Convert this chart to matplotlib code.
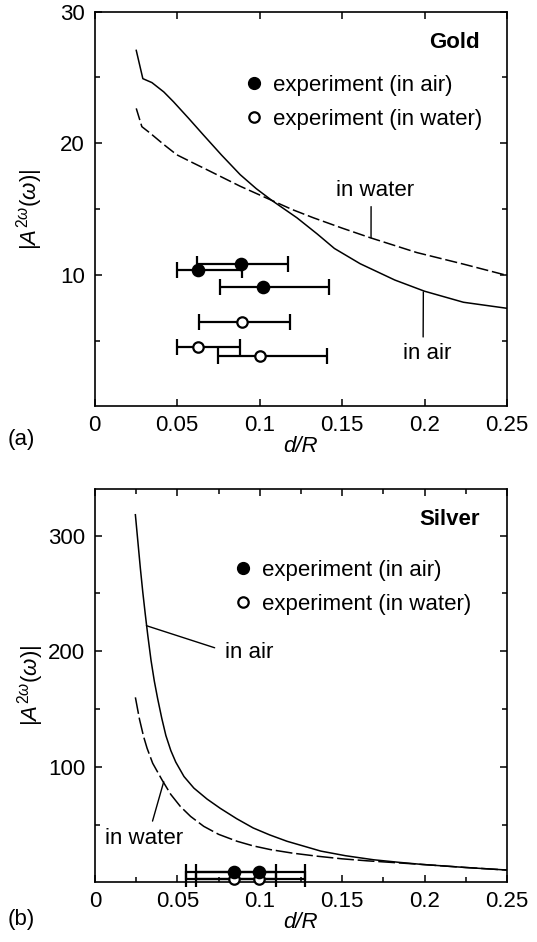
import numpy as np
import matplotlib
matplotlib.use("Agg")
import matplotlib.pyplot as plt
from matplotlib.lines import Line2D

plt.rcParams['font.family'] = ['Liberation Sans', 'DejaVu Sans']
plt.rcParams['mathtext.fontset'] = 'custom'
plt.rcParams['mathtext.rm'] = 'Liberation Sans'
plt.rcParams['mathtext.it'] = 'Liberation Sans:italic'
plt.rcParams['font.size'] = 16

# gold, theory curves
gold_air_x = [0.0253, 0.0293, 0.0348, 0.042, 0.0479, 0.057, 0.066, 0.077, 0.0883, 0.098, 0.1075,
              0.1227, 0.135, 0.1454, 0.161, 0.182, 0.2, 0.2236, 0.25]
gold_air_y = [27.06, 24.91, 24.61, 23.9, 23.15, 21.9, 20.63, 19.1, 17.61, 16.55, 15.65,
              14.33, 13.1, 12.0, 10.84, 9.6, 8.75, 7.91, 7.45]
gold_wat_x = [0.0253, 0.0287, 0.0338, 0.042, 0.0499, 0.059, 0.0681, 0.0883, 0.1075, 0.12, 0.1327,
              0.15, 0.167, 0.1953, 0.2236, 0.25]
gold_wat_y = [22.65, 21.26, 20.76, 19.9, 19.12, 18.55, 17.99, 16.73, 15.65, 14.95, 14.33,
              13.55, 12.82, 11.69, 10.81, 9.95]

# gold, experiment
gold_exp_air_x = [0.0889, 0.0630, 0.1020]
gold_exp_air_y = [10.81, 10.35, 9.09]
gold_exp_air_lo = [0.0624, 0.0503, 0.0762]
gold_exp_air_hi = [0.1172, 0.0894, 0.1422]
gold_exp_wat_x = [0.0893, 0.0630, 0.1004]
gold_exp_wat_y = [6.39, 4.51, 3.83]
gold_exp_wat_lo = [0.0636, 0.0503, 0.0748]
gold_exp_wat_hi = [0.1186, 0.0883, 0.1412]

# silver, theory curves
silver_air_x = [0.0245, 0.026, 0.0275, 0.029, 0.0305, 0.032, 0.034, 0.036, 0.038, 0.0405, 0.043,
                0.046, 0.049, 0.054, 0.06, 0.068, 0.076, 0.086, 0.096, 0.106, 0.1165, 0.137,
                0.152, 0.169, 0.185, 0.199, 0.225, 0.25]
silver_air_y = [318, 295, 272, 251, 232, 214, 192, 174, 159, 142, 127,
                114, 104, 91.5, 81.5, 72, 64, 55, 47, 41, 35.5, 27,
                23, 19.5, 17.2, 15.4, 12.8, 10.6]
silver_wat_x = [0.0245, 0.027, 0.0295, 0.0316, 0.035, 0.0407, 0.046, 0.0518, 0.058, 0.066, 0.075,
                0.0862, 0.096, 0.1064, 0.12, 0.1347, 0.15, 0.165, 0.18, 0.2, 0.225, 0.25]
silver_wat_y = [160, 141, 126, 116, 103, 88.5, 76, 65.6, 57, 48.4, 41.5,
                35.5, 31.5, 28.3, 25.2, 22.6, 20.3, 18.6, 17.2, 15.3, 12.8, 10.6]

# silver, experiment
silver_exp_x = [0.0841, 0.0993]
silver_exp_lo = [0.0555, 0.0615]
silver_exp_hi = [0.110, 0.1276]
silver_exp_air_y = [8.5, 8.5]
silver_exp_wat_y = [3, 3]

xticks = [0, 0.05, 0.1, 0.15, 0.2, 0.25]
xticklabels = ['0', '0.05', '0.1', '0.15', '0.2', '0.25']

fig = plt.figure(figsize=(5.37, 9.42), dpi=100)
ax1 = fig.add_axes([94.5 / 537, 1 - 406.3 / 942, 412.5 / 537, 394.6 / 942])
ax2 = fig.add_axes([95 / 537, 1 - 882.3 / 942, 412 / 537, 393 / 942])


def exp_bars(ax, x, y, lo, hi, filled):
    x = np.array(x)
    xerr = [x - np.array(lo), np.array(hi) - x]
    ax.errorbar(x, y, xerr=xerr, fmt='o', color='k', ms=8.2 if filled else 7.5,
                mfc='k' if filled else 'white', mec='k', mew=1.6,
                elinewidth=1.6, capsize=5.5, capthick=1.6, clip_on=False, zorder=3)


def style(ax):
    ax.set_xlim(0, 0.25)
    ax.set_xticks(xticks)
    ax.set_xticklabels(xticklabels)
    ax.tick_params(which='both', direction='in', top=True, right=True, width=1.1, labelsize=16)
    ax.tick_params(which='major', length=5, pad=6)
    ax.tick_params(which='minor', length=3.5)
    ax.tick_params(axis='y', which='major', pad=7)
    for s in ax.spines.values():
        s.set_linewidth(1.2)
    ax.set_xlabel('d/R', style='italic', fontsize=16, labelpad=0)
    ax.set_ylabel(r'$|A^{2\omega}(\omega)|$', fontsize=16)
    ax.yaxis.set_label_coords(-0.12, 0.5)
    handles = [Line2D([], [], ls='none', marker='o', ms=8.5, color='k'),
               Line2D([], [], ls='none', marker='o', ms=7.5, mfc='white', mec='k', mew=1.6)]
    return handles


# panel (a) gold
ax1.plot(gold_air_x, gold_air_y, color='k', lw=1.1)
ax1.plot(gold_wat_x, gold_wat_y, color='k', lw=1.1, dashes=(8, 2.5))
exp_bars(ax1, gold_exp_air_x, gold_exp_air_y, gold_exp_air_lo, gold_exp_air_hi, True)
exp_bars(ax1, gold_exp_wat_x, gold_exp_wat_y, gold_exp_wat_lo, gold_exp_wat_hi, False)
ax1.set_ylim(0, 30)
ax1.set_yticks([10, 20, 30])
ax1.set_yticks([5, 15, 25], minor=True)
h = style(ax1)
ax1.legend(h, ['experiment (in air)', 'experiment (in water)'], loc='upper left',
           bbox_to_anchor=(0.36, 0.84), frameon=False, fontsize=16, handlelength=1.0,
           handletextpad=0.35, borderpad=0, borderaxespad=0, labelspacing=0.58)
ax1.text(0.935, 0.923, 'Gold', transform=ax1.transAxes, ha='right', va='center',
         fontsize=16, fontweight='bold')
ax1.annotate('in water', xy=(0.1676, 12.82), xytext=(0.170, 16.4), ha='center', va='center',
             fontsize=16, arrowprops=dict(arrowstyle='-', color='k', lw=1.0,
                                          relpos=(0.45, 0), shrinkA=2, shrinkB=0))
ax1.annotate('in air', xy=(0.1993, 8.7), xytext=(0.2018, 4.05), ha='center', va='center',
             fontsize=16, arrowprops=dict(arrowstyle='-', color='k', lw=1.0,
                                          relpos=(0.41, 1), shrinkA=2, shrinkB=0))
fig.text(8 / 537, 1 - 440 / 942, '(a)', ha='left', va='center', fontsize=16)

# panel (b) silver
ax2.plot(silver_air_x, silver_air_y, color='k', lw=1.1)
ax2.plot(silver_wat_x, silver_wat_y, color='k', lw=1.1, dashes=(11, 2.5))
exp_bars(ax2, silver_exp_x, silver_exp_wat_y, silver_exp_lo, silver_exp_hi, False)
exp_bars(ax2, silver_exp_x, silver_exp_air_y, silver_exp_lo, silver_exp_hi, True)
ax2.set_ylim(0, 340)
ax2.set_yticks([100, 200, 300])
ax2.set_yticks([50, 150, 250], minor=True)
ax2.set_xticks([0.025, 0.075, 0.125, 0.175, 0.225], minor=True)
h = style(ax2)
ax2.legend(h, ['experiment (in air)', 'experiment (in water)'], loc='upper left',
           bbox_to_anchor=(0.333, 0.82), frameon=False, fontsize=16, handlelength=1.0,
           handletextpad=0.35, borderpad=0, borderaxespad=0, labelspacing=0.58)
ax2.text(0.934, 0.924, 'Silver', transform=ax2.transAxes, ha='right', va='center',
         fontsize=16, fontweight='bold')
ax2.annotate('in air', xy=(0.0312, 222), xytext=(0.0791, 199), ha='left', va='center',
             fontsize=16, arrowprops=dict(arrowstyle='-', color='k', lw=1.0,
                                          relpos=(0, 0.55), shrinkA=6, shrinkB=0))
ax2.annotate('in water', xy=(0.0417, 87), xytext=(0.0297, 38), ha='center', va='center',
             fontsize=16, arrowprops=dict(arrowstyle='-', color='k', lw=1.0,
                                          relpos=(0.585, 1), shrinkA=3, shrinkB=0))
fig.text(8 / 537, 1 - 920 / 942, '(b)', ha='left', va='center', fontsize=16)

fig.savefig('out.png', dpi=100)
